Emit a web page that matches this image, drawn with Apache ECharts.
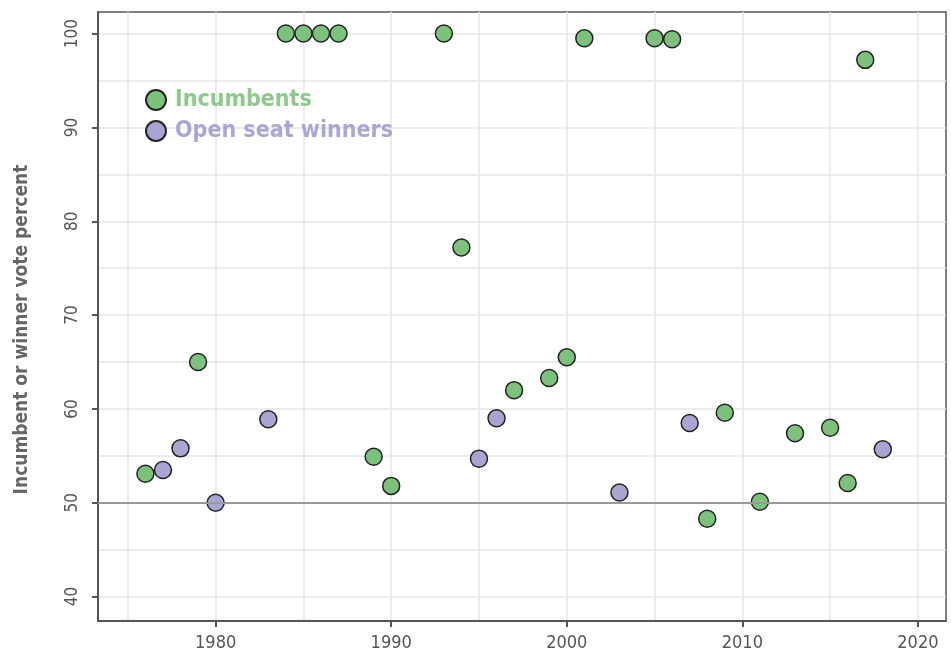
<!DOCTYPE html>
<html>
<head>
<meta charset="utf-8">
<script src="https://cdn.jsdelivr.net/npm/echarts@6/dist/echarts.min.js"></script>
<style>
  html, body { margin: 0; padding: 0; background: #fff; }
  #chart { width: 951px; height: 659px; }
</style>
</head>
<body>
<div id="chart"></div>
<script>
// incumbents (green)
const incumbentYears = [1976, 1979, 1984, 1985, 1986, 1987, 1989, 1990, 1993, 1994, 1997, 1999, 2000, 2001, 2005, 2006, 2008, 2009, 2011, 2013, 2015, 2016, 2017];
const incumbentVotes = [53.1, 65.0, 100, 100, 100, 100, 54.9, 51.8, 100, 77.2, 62.0, 63.3, 65.5, 99.5, 99.5, 99.4, 48.3, 59.6, 50.1, 57.4, 58.0, 52.1, 97.2];
// open seat winners (purple)
const openSeatYears = [1977, 1978, 1980, 1983, 1995, 1996, 2003, 2007, 2018];
const openSeatVotes = [53.5, 55.8, 50.0, 58.9, 54.7, 59.0, 51.1, 58.5, 55.7];

// ticks / grid
const xTicks = [1980, 1990, 2000, 2010, 2020];
const xMinor = [1975, 1985, 1995, 2005, 2015];
const yTicks = [40, 50, 60, 70, 80, 90, 100];
const yMinor = [45, 55, 65, 75, 85, 95];
const refLine = 50;

const FONT = "'Liberation Sans Narrow', 'DejaVu Sans Condensed', 'Roboto', sans-serif";
const GRID_COLOR = '#e6e6e6';
const AXIS_COLOR = '#555';

const xRange = [1973.3, 2021.6];
const yRange = [37.4, 102.3];

const pairs = (xs, ys) => xs.map((x, i) => [x, ys[i]]);

const chart = echarts.init(document.getElementById('chart'));

chart.setOption({
  animation: false,
  grid: {
    left: 98, right: 5, top: 12, bottom: 38,
    show: true, borderColor: AXIS_COLOR, borderWidth: 1.5
  },
  legend: {
    orient: 'vertical',
    left: 145, top: 87, padding: 0,
    itemWidth: 20, itemHeight: 20, itemGap: 5,
    icon: 'circle',
    textStyle: { fontFamily: FONT, fontSize: 23, fontWeight: 'bold', lineHeight: 26, padding: [0, 0, 0, 4] },
    data: [
      { name: 'Incumbents', textStyle: { color: '#8dca8b' } },
      { name: 'Open seat winners', textStyle: { color: '#aaa7d6' } }
    ]
  },
  xAxis: [
    {
      type: 'value', min: xRange[0], max: xRange[1],
      axisLine: { show: true, onZero: false, lineStyle: { color: AXIS_COLOR, width: 2 } },
      axisTick: { show: true, customValues: xTicks, length: 6, lineStyle: { color: AXIS_COLOR, width: 2 } },
      axisLabel: { customValues: xTicks, formatter: v => String(v), color: AXIS_COLOR, fontFamily: FONT, fontSize: 18, margin: 13 },
      splitLine: { show: true, lineStyle: { color: GRID_COLOR, width: 1.5 } }
    },
    {
      type: 'value', min: xRange[0], max: xRange[1], position: 'bottom',
      axisLine: { show: false },
      axisTick: { show: false, customValues: xMinor },
      axisLabel: { show: false, customValues: xMinor },
      splitLine: { show: true, lineStyle: { color: GRID_COLOR, width: 1.5 } }
    }
  ],
  yAxis: [
    {
      type: 'value', min: yRange[0], max: yRange[1],
      name: 'Incumbent or winner vote percent',
      nameLocation: 'middle', nameGap: 66,
      nameTextStyle: { fontFamily: FONT, fontSize: 19, fontWeight: 'bold', color: '#666', padding: [0, 26, 0, 0] },
      axisLine: { show: true, onZero: false, lineStyle: { color: AXIS_COLOR, width: 2 } },
      axisTick: { show: true, customValues: yTicks, length: 6, lineStyle: { color: AXIS_COLOR, width: 2 } },
      axisLabel: { customValues: yTicks, rotate: 90, color: AXIS_COLOR, fontFamily: FONT, fontSize: 17, margin: 17 },
      splitLine: { show: true, lineStyle: { color: GRID_COLOR, width: 1.5 } }
    },
    {
      type: 'value', min: yRange[0], max: yRange[1], position: 'left',
      axisLine: { show: false },
      axisTick: { show: false, customValues: yMinor },
      axisLabel: { show: false, customValues: yMinor },
      splitLine: { show: true, lineStyle: { color: GRID_COLOR, width: 1.5 } }
    }
  ],
  series: [
    {
      name: 'Incumbents',
      type: 'scatter',
      symbolSize: 17,
      itemStyle: { color: '#7cc27d', borderColor: '#222', borderWidth: 1.5, opacity: 1 },
      data: pairs(incumbentYears, incumbentVotes),
      markLine: {
        silent: true, symbol: 'none', label: { show: false },
        lineStyle: { color: '#999', width: 2, type: 'solid' },
        data: [{ yAxis: refLine }]
      },
      z: 3
    },
    {
      name: 'Open seat winners',
      type: 'scatter',
      symbolSize: 17,
      itemStyle: { color: '#a8a5d3', borderColor: '#222', borderWidth: 1.5, opacity: 1 },
      data: pairs(openSeatYears, openSeatVotes),
      z: 3
    }
  ]
});
</script>
</body>
</html>
